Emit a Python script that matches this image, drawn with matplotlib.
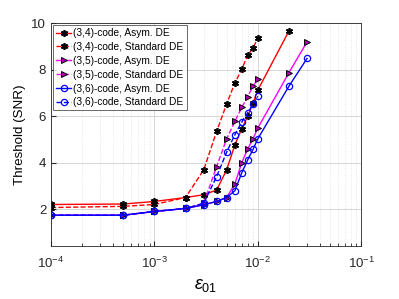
import matplotlib
matplotlib.use('Agg')
import matplotlib.pyplot as plt

plt.rcParams['font.family'] = ['Liberation Sans', 'DejaVu Sans']
plt.rcParams['mathtext.fontset'] = 'custom'
plt.rcParams['mathtext.rm'] = 'Liberation Sans'
plt.rcParams['mathtext.it'] = 'Liberation Sans:italic'

# error probabilities (shared x values)
eps = [1e-4, 5e-4, 1e-3, 2e-3, 3e-3, 4e-3, 5e-3, 6e-3, 7e-3, 8e-3, 9e-3, 1e-2, 2e-2, 3e-2]

# thresholds
c34_asym = [2.20, 2.22, 2.33, 2.50, 2.62, 2.82, 3.69, 4.76, 5.45, 6.00, 6.55, 7.11, 9.65]
c34_std = [2.07, 2.12, 2.20, 2.50, 3.69, 5.34, 6.52, 7.42, 8.01, 8.62, 8.91, 9.37]
c35_asym = [1.74, 1.74, 1.90, 2.03, 2.19, 2.33, 2.50, 3.08, 4.00, 4.59, 5.02, 5.48, 7.86, 9.19]
c35_std = [1.74, 1.74, 1.90, 2.03, 2.25, 3.83, 5.02, 5.77, 6.37, 6.84, 7.28, 7.59]
c36_asym = [1.74, 1.74, 1.90, 2.03, 2.19, 2.33, 2.50, 2.79, 3.56, 4.12, 4.57, 5.02, 7.28, 8.48]
c36_std = [1.74, 1.74, 1.90, 2.03, 2.25, 3.40, 4.45, 5.20, 5.74, 6.15, 6.50, 6.85]

labels = ['(3,4)-code, Asym. DE', '(3,4)-code, Standard DE',
          '(3,5)-code, Asym. DE', '(3,5)-code, Standard DE',
          '(3,6)-code, Asym. DE', '(3,6)-code, Standard DE']

fig = plt.figure(figsize=(3.99, 2.99), dpi=100)
ax = fig.add_axes([0.128, 0.176, 0.777, 0.747])

star = dict(marker=(6, 2, 0), ms=5, mec='k', mew=1.2)
tri = dict(marker='>', ms=4.5, mfc='#b000b0', mec='k', mew=0.7)
circ = dict(marker='o', ms=4.5, mfc='none', mec='#0000ff', mew=0.9)

ax.plot(eps[:len(c34_asym)], c34_asym, '-', color='#ff0000', lw=1.0, label=labels[0], **star)
ax.plot(eps[:len(c34_std)], c34_std, '--', color='#ff0000', lw=1.0, label=labels[1], **star)
ax.plot(eps[:len(c35_asym)], c35_asym, '-', color='#ff00ff', lw=1.0, label=labels[2], **tri)
ax.plot(eps[:len(c35_std)], c35_std, '--', color='#ff00ff', lw=1.0, label=labels[3], **tri)
ax.plot(eps[:len(c36_asym)], c36_asym, '-', color='#0000ff', lw=1.0, label=labels[4], **circ)
ax.plot(eps[:len(c36_std)], c36_std, '--', color='#0000ff', lw=1.0, label=labels[5], **circ)

ax.set_xscale('log')
ax.set_xlim(1e-4, 1e-1)
ax.set_ylim(0.4, 10)
ax.set_yticks([2, 4, 6, 8, 10])

ax.grid(True, which='major', color='#d0d0d0', lw=0.6)
ax.grid(True, which='minor', axis='x', color='#e0e0e0', lw=0.6, ls=':')
ax.tick_params(which='both', direction='in', labelsize=9.5, colors='#262626')
ax.tick_params(axis='x', pad=7)
for s in ax.spines.values():
    s.set_color('#262626')
    s.set_linewidth(0.6)

ax.set_xlabel(r'$\epsilon_{01}$', fontsize=13, labelpad=4)
ax.set_ylabel('Threshold (SNR)', fontsize=9.6)

leg = ax.legend(loc='upper left', fontsize=7.3, frameon=True, fancybox=False,
                edgecolor='#262626', handlelength=1.5, handletextpad=0.2,
                labelspacing=0.38, borderpad=0.3, borderaxespad=0.2)
leg.get_frame().set_linewidth(0.6)

fig.savefig('out.png', dpi=100)
